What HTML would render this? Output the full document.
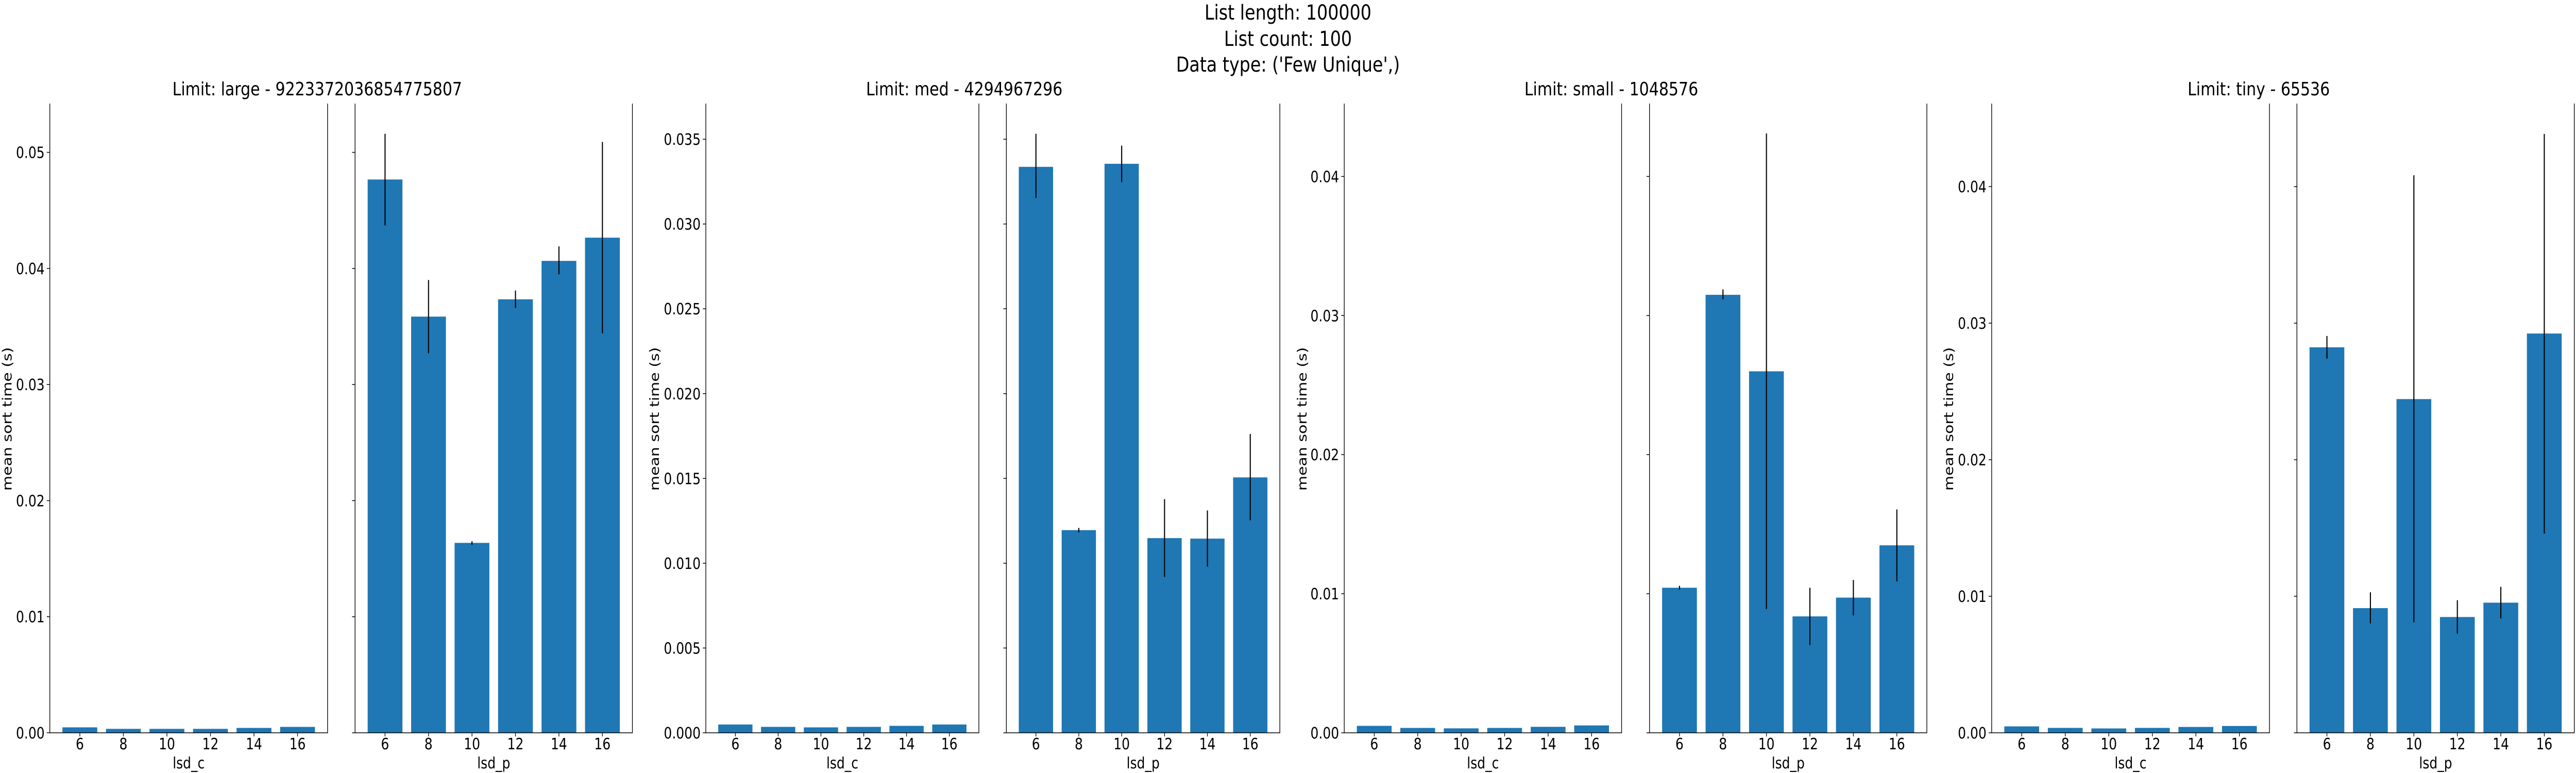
<!DOCTYPE html>
<html><head><meta charset="utf-8"><style>
html,body{margin:0;padding:0;background:#fff;overflow:hidden;width:100vw;height:100vh}
svg{display:block;width:100vw;height:100vh;font-family:"DejaVu Sans","Liberation Sans",sans-serif}
</style></head><body>
<svg id="chart" viewBox="0 0 6000 1500" preserveAspectRatio="none" xmlns="http://www.w3.org/2000/svg">
<text x="3000" y="38" font-size="40" text-anchor="middle">List length: 100000</text>
<text x="3000" y="89" font-size="40" text-anchor="middle">List count: 100</text>
<text x="3000" y="139" font-size="40" text-anchor="middle">Data type: ('Few Unique',)</text>
</svg>
<script>
const categories = ["6","8","10","12","14","16"];
const panelTitles = ["Limit: large - 9223372036854775807","Limit: med - 4294967296","Limit: small - 1048576","Limit: tiny - 65536"];
const yMaxes = [0.0542, 0.0371, 0.04524, 0.04608];
const yTicks1 = [0,0.01,0.02,0.03,0.04,0.05];
const yTickLabels1 = ["0.00","0.01","0.02","0.03","0.04","0.05"];
const yTicks2 = [0,0.005,0.01,0.015,0.02,0.025,0.03,0.035];
const yTickLabels2 = ["0.000","0.005","0.010","0.015","0.020","0.025","0.030","0.035"];
const yTicks3 = [0,0.01,0.02,0.03,0.04];
const yTickLabels3 = ["0.00","0.01","0.02","0.03","0.04"];
// lsd_c means
const lsdC1 = [0.00047,0.00034,0.00034,0.00034,0.00042,0.00051];
const lsdC2 = [0.00049,0.00035,0.00032,0.00035,0.00041,0.00049];
const lsdC3 = [0.00050,0.00035,0.00032,0.00035,0.00043,0.00053];
const lsdC4 = [0.00047,0.00036,0.00032,0.00036,0.00043,0.00050];
// lsd_p means and error bar lows/highs
const lsdP1 = [0.04766,0.03585,0.01636,0.03734,0.04065,0.04265];
const lsdP1Lo = [0.0437,0.0327,0.0162,0.0366,0.0395,0.0344];
const lsdP1Hi = [0.0516,0.0390,0.0165,0.0381,0.0419,0.0509];
const lsdP2 = [0.03337,0.01195,0.03355,0.01148,0.01145,0.01506];
const lsdP2Lo = [0.03154,0.01182,0.03247,0.00919,0.0098,0.01253];
const lsdP2Hi = [0.03532,0.01208,0.03462,0.01378,0.01311,0.01762];
const lsdP3 = [0.01043,0.03149,0.02599,0.00837,0.00972,0.01348];
const lsdP3Lo = [0.01029,0.03117,0.0089,0.00631,0.00844,0.01089];
const lsdP3Hi = [0.01057,0.03188,0.04309,0.01043,0.01099,0.01606];
const lsdP4 = [0.02823,0.00913,0.02444,0.00848,0.00953,0.02924];
const lsdP4Lo = [0.0274,0.00801,0.00809,0.00726,0.00838,0.01458];
const lsdP4Hi = [0.02906,0.01029,0.04083,0.00971,0.01069,0.04386];

const svg = document.getElementById('chart');
const NS = "http://www.w3.org/2000/svg";
function mk(tag, attrs){const e=document.createElementNS(NS,tag);for(const k in attrs)e.setAttribute(k,attrs[k]);svg.appendChild(e);return e;}

const layout = [
 {l:[116,763], r:[827,1473], tc:739, yl:16},
 {l:[1644,2280], r:[2344,2981], tc:2246, yl:1524},
 {l:[3131,3777], r:[3842,4488], tc:3753, yl:3032},
 {l:[4639,5286], r:[5350,5996], tc:5261, yl:4538}
];
const Y0 = 1422, Y1 = 201;
const tickSets = [[yTicks1,yTickLabels1],[yTicks2,yTickLabels2],[yTicks3,yTickLabels3],[yTicks3,yTickLabels3]];
const cData = [lsdC1,lsdC2,lsdC3,lsdC4];
const pData = [[lsdP1,lsdP1Lo,lsdP1Hi],[lsdP2,lsdP2Lo,lsdP2Hi],[lsdP3,lsdP3Lo,lsdP3Hi],[lsdP4,lsdP4Lo,lsdP4Hi]];

function drawAxes(pi, x0, x1, ymax, vals, lo, hi, labeled, xlabel, side){
  const yS = v => Y0 - v/ymax*(Y0-Y1);
  const xmin=-0.69, xmax=5.69;
  const xS = i => x0 + (i - xmin)/(xmax-xmin)*(x1-x0);
  const bw = 0.8*(x1-x0)/(xmax-xmin);
  vals.forEach((v,i)=>{
    const r = mk('rect',{x:xS(i)-bw/2,y:yS(v),width:bw,height:Y0-yS(v),fill:'#1f77b4'});
    
    
    if(lo){
      const e = mk('line',{x1:xS(i),x2:xS(i),y1:yS(lo[i]),y2:yS(hi[i]),stroke:'#000','stroke-width':2.5});
      
      
    }
    const t = mk('line',{x1:xS(i),x2:xS(i),y1:Y0,y2:Y0+7,stroke:'#000','stroke-width':1.5});
    
    
    const tl = mk('text',{x:xS(i),y:1454,'font-size':30,'text-anchor':'middle'});
    tl.textContent = categories[i];
    
    
  });
  const [ticks, labels] = tickSets[pi];
  ticks.forEach((v,i)=>{
    const t = mk('line',{x1:x0-7,x2:x0,y1:yS(v),y2:yS(v),stroke:'#000','stroke-width':1.5});
    
    
    if(labeled){
      const tl = mk('text',{x:x0-12,y:yS(v)+11,'font-size':30,'text-anchor':'end'});
      tl.textContent = labels[i];
      
      
    }
  });
  const p = mk('path',{d:`M${x0},${Y1}V${Y0}H${x1}V${Y1}`,fill:'none',stroke:'#000','stroke-width':1.6});
  
  
  const xl = mk('text',{x:(x0+x1)/2,y:1491,'font-size':30,'text-anchor':'middle'});
  xl.textContent = xlabel;
  
  
}

layout.forEach((L,pi)=>{
  const tt = mk('text',{x:L.tc,y:185,'font-size':36,'text-anchor':'middle'});
  tt.textContent = panelTitles[pi];
  
  
  const yl = mk('text',{x:0,y:0,'font-size':30,'text-anchor':'middle',transform:`translate(${L.yl+11},813) rotate(-90)`});
  yl.textContent = 'mean sort time (s)';
  
  
  drawAxes(pi, L.l[0], L.l[1], yMaxes[pi], cData[pi], null, null, true, 'lsd_c', 'c');
  drawAxes(pi, L.r[0], L.r[1], yMaxes[pi], pData[pi][0], pData[pi][1], pData[pi][2], false, 'lsd_p', 'p');
});
</script>
</body></html>
